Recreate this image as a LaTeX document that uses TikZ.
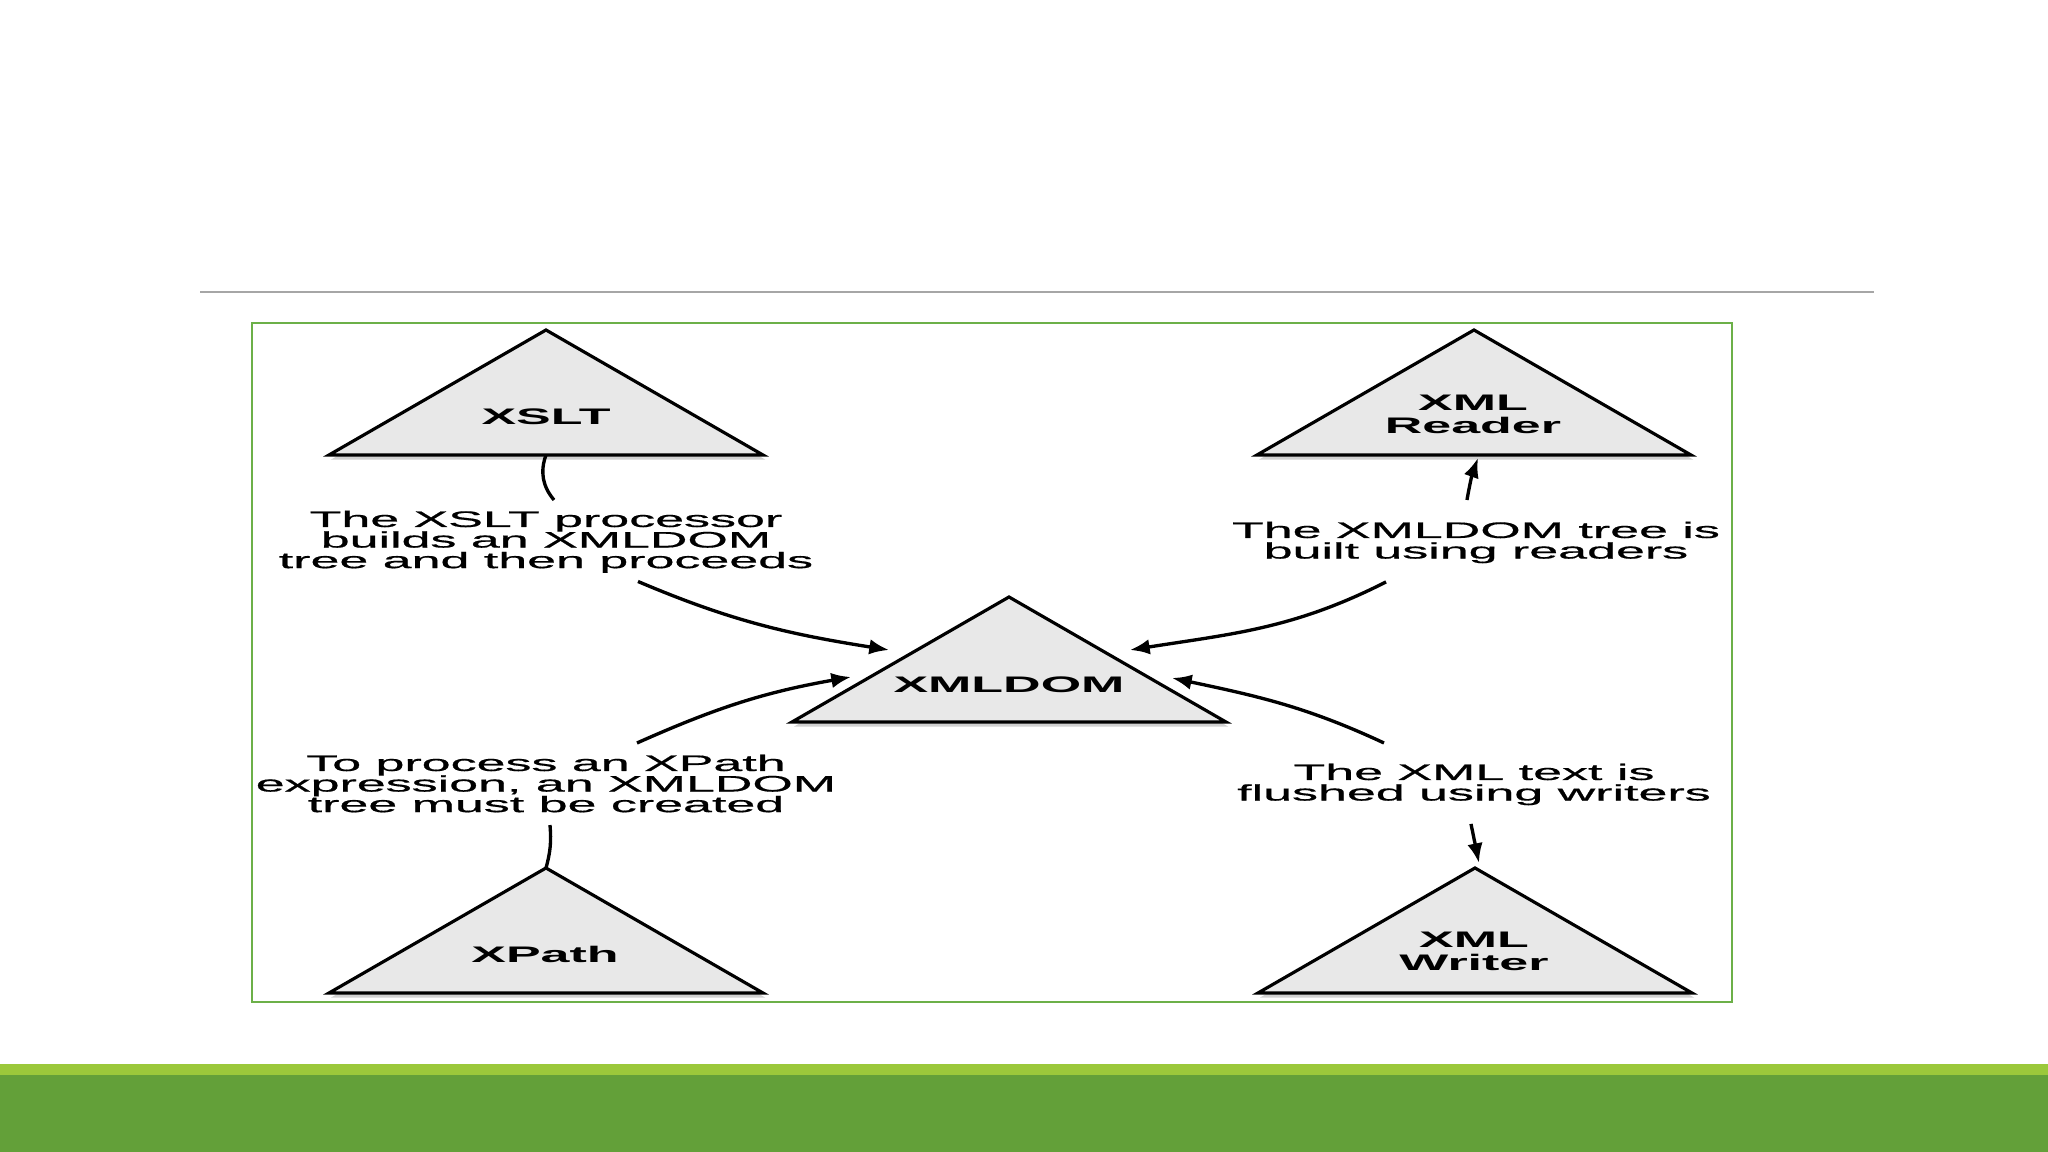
\documentclass[tikz,border=0pt]{standalone}
\usepackage{fontspec}
\setmainfont{Liberation Sans}
\newfontfamily\notefont{Liberation Sans}[FakeBold=0.5]
\usepackage{tikz}
\usetikzlibrary{arrows.meta}
\usetikzlibrary{shadows}
\usetikzlibrary{positioning}
\definecolor{framegreen}{RGB}{108,176,72}
\definecolor{barlight}{RGB}{155,200,59}
\definecolor{bardark}{RGB}{99,160,57}
\tikzset{>={Latex[length=5.6pt,width=4.4pt]}}
\tikzstyle{tri} = [draw, line width=0.9pt, line join=miter, fill=black!9, drop shadow={shadow xshift=0.6pt, shadow yshift=-1.3pt, fill=black!30, opacity=0.6}]
\tikzstyle{tname} = [font={\fontsize{6.4}{6.7}\selectfont\bfseries}, xscale=2.31, align=center, inner sep=0pt]
\tikzstyle{note} = [font={\notefont\fontsize{6.4}{5.85}\selectfont\lineskiplimit=-1cm}, xscale=2.31, align=center, inner sep=0pt, anchor=north]
\tikzstyle{link} = [draw, line width=0.95pt]

\begin{document}
\begin{tikzpicture}
		\useasboundingbox (0,0) rectangle (20.48,11.52);
		% slide decoration
		\fill [bardark] (0,0) rectangle (20.48,0.77);
		\fill [barlight] (0,0.77) rectangle (20.48,0.88);
		\draw [black!35, line width=0.45pt] (2.00,8.60) -- (18.74,8.60);
		\draw [framegreen, line width=0.6pt] (2.52,1.50) rectangle (17.32,8.29);

		% triangles
		\coordinate (xslt_base) at (5.46,6.97);
		\coordinate (reader_base) at (14.74,6.97);
		\coordinate (dom_base) at (10.09,4.30);
		\coordinate (xpath_base) at (5.46,1.59);
		\coordinate (writer_base) at (14.75,1.59);
		\coordinate (xpath_apex) at ([yshift=1.25cm] xpath_base);
		\coordinate (writer_apex) at ([yshift=1.25cm] writer_base);

		\draw [tri] ([xshift=-2.17cm] xslt_base) -- ([yshift=1.25cm] xslt_base) -- ([xshift=2.17cm] xslt_base) -- cycle;
		\draw [tri] ([xshift=-2.17cm] reader_base) -- ([yshift=1.25cm] reader_base) -- ([xshift=2.17cm] reader_base) -- cycle;
		\draw [tri] ([xshift=-2.17cm] dom_base) -- ([yshift=1.25cm] dom_base) -- ([xshift=2.17cm] dom_base) -- cycle;
		\draw [tri] ([xshift=-2.17cm] xpath_base) -- (xpath_apex) -- ([xshift=2.17cm] xpath_base) -- cycle;
		\draw [tri] ([xshift=-2.17cm] writer_base) -- (writer_apex) -- ([xshift=2.17cm] writer_base) -- cycle;

		\node [tname, anchor=base] (xslt) at (5.46,7.27) {XSLT};
		\node [tname, anchor=north] (reader) at (14.73,7.58) {XML\\Reader};
		\node [tname, anchor=base] (dom) at (10.09,4.59) {XMLDOM};
		\node [tname, anchor=base] (xpath) at (5.45,1.89) {XPath};
		\node [tname, anchor=north] (writer) at (14.74,2.21) {XML\\Writer};

		% notes
		\node [note] (note_xslt) at (5.46,6.42) {The XSLT processor\\builds an XMLDOM\\tree and then proceeds};
		\node [note] (note_reader) at (14.76,6.31) {The XMLDOM tree is\\built using readers};
		\node [note] (note_xpath) at (5.46,3.98) {To process an XPath\\expression, an XMLDOM\\tree must be created};
		\node [note] (note_writer) at (14.74,3.89) {The XML text is\\flushed using writers};

		\draw [link] (xslt_base) to [bend right=30] ([shift={(0.08,0.10)}] note_xslt.north);
		\draw [link, ->] ([shift={(0.92,-0.08)}] note_xslt.south) to [out=-23, in=171] ([shift={(-1.20,0.72)}] dom_base);
		\draw [link, ->] ([shift={(-0.09,0.21)}] note_reader.north) to [bend left=5] ([shift={(0.04,-0.03)}] reader_base);
		\draw [link, ->] ([shift={(-0.90,-0.18)}] note_reader.south) to [out=207, in=9] ([shift={(1.21,0.72)}] dom_base);
		\draw [link, ->] ([shift={(0.91,0.11)}] note_xpath.north) to [out=24, in=190] ([shift={(-1.58,0.45)}] dom_base);
		\draw [link, ->] ([shift={(-0.90,0.20)}] note_writer.north) to [out=155, in=-12] ([shift={(1.63,0.44)}] dom_base);
		\draw [link] ([shift={(0.04,-0.12)}] note_xpath.south) to [bend left=10] (xpath_apex);
		\draw [link, ->] ([shift={(-0.03,-0.18)}] note_writer.south) -- ([shift={(0.04,0.05)}] writer_apex);
	\end{tikzpicture}
\end{document}
